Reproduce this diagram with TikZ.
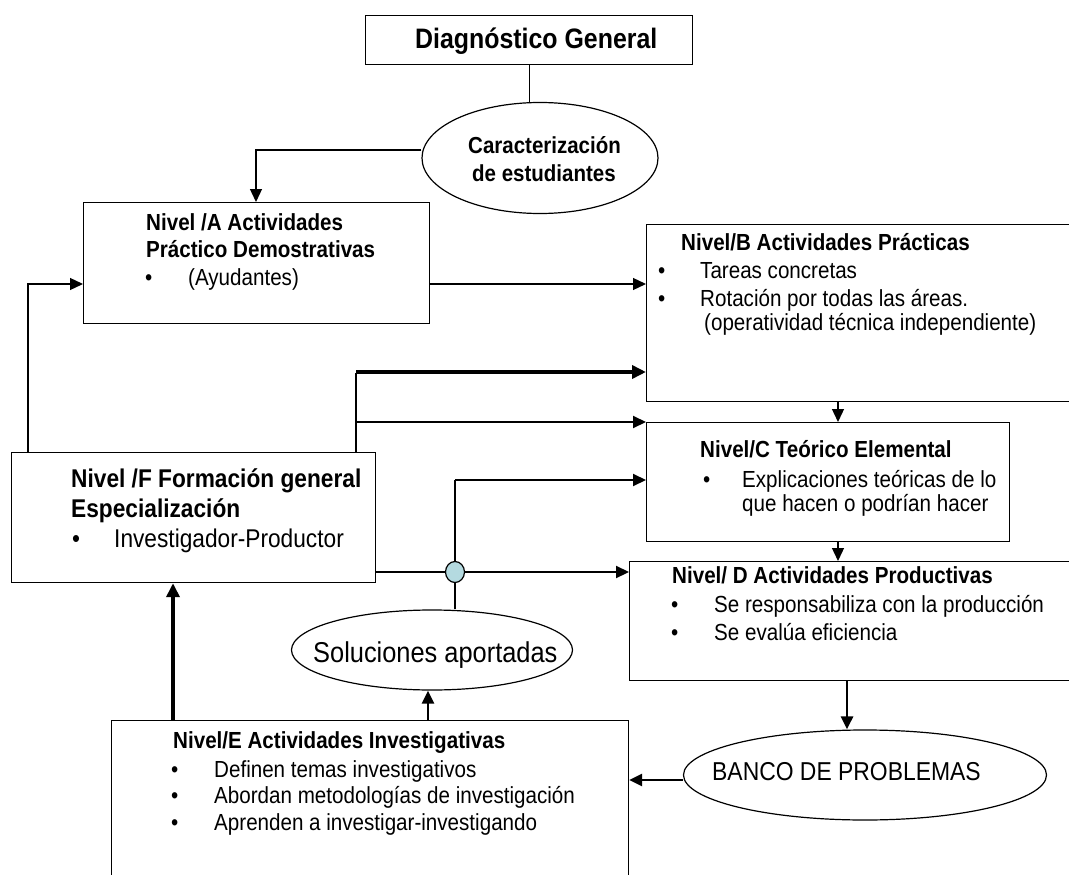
\documentclass[tikz,border=0pt]{standalone}
\usepackage{fontspec}
\setmainfont{Liberation Sans}
\usepackage{graphicx}
\usetikzlibrary{arrows.meta,shapes.geometric}
\definecolor{jumpfill}{RGB}{180,218,224}
\newcommand{\txt}[4]{\node[anchor=base west,inner sep=0pt,font=#3] (#1) at #2 {\scalebox{1}[1.13]{#4}};}
\newcommand{\boxbf}{\fontsize{20.6}{24}\selectfont\bfseries}
\newcommand{\boxrm}{\fontsize{20.6}{24}\selectfont}
\newcommand{\fbf}{\fontsize{22.7}{26}\selectfont\bfseries}
\newcommand{\frm}{\fontsize{22.7}{26}\selectfont}
\begin{document}
\begin{tikzpicture}[x=1pt,y=-1pt,
  box/.style={draw,line width=1.2pt,rectangle,inner sep=0pt,anchor=north west},
  ell/.style={draw,ellipse,line width=1.2pt,inner sep=0pt},
  ln/.style={line width=1.2pt},
  arr/.style={line width=1.3pt,-{Triangle[length=13pt,width=12pt]}},
  marr/.style={line width=2pt,-{Triangle[length=13pt,width=12pt]}},
  tarr/.style={line width=3.5pt,-{Triangle[length=14pt,width=13pt]}}]
\useasboundingbox (0,0) rectangle (1069,875);
\clip (0,0) rectangle (1069,875);
\fill[white] (0,0) rectangle (1069,875);

% boxes
\node[box,minimum width=327pt,minimum height=49pt] (Diag) at (365,15) {};
\node[box,minimum width=346pt,minimum height=121pt] (A) at (83,202) {};
\node[box,minimum width=434pt,minimum height=177pt] (B) at (646,224) {};
\node[box,minimum width=363pt,minimum height=119pt] (C) at (646,422) {};
\node[box,minimum width=451pt,minimum height=119pt] (D) at (629,561) {};
\node[box,minimum width=364pt,minimum height=130pt] (F) at (11,452) {};
\node[box,minimum width=517pt,minimum height=175pt] (E) at (111,720) {};

% ellipses
\node[ell,minimum width=236pt,minimum height=111pt] (Car) at (540,158) {};
\node[ell,minimum width=281pt,minimum height=80pt] (Sol) at (432,650) {};
\node[ell,minimum width=363pt,minimum height=90pt] (Ban) at (865,775) {};

% helper coordinates
\coordinate (cA) at (256,150);
\coordinate (jA) at (28,284);
\coordinate (jF) at (356,372);
\coordinate (jBC) at (838,0);
\coordinate (jD) at (455,572);
\coordinate (jS) at (455,480);
\coordinate (jEF) at (173,0);
\coordinate (jES) at (428,0);
\coordinate (jDB) at (847,0);
\coordinate (jB) at (0,780);

% connectors
\draw[ln] (Diag.south) -- (Diag.south |- Car.north);
\draw[arr] (Car.west |- cA) -| (A.north -| cA);
\draw[arr] (F.north -| jA) |- (A.west |- jA);
\draw[arr] (A.east |- jA) -- (B.west |- jA);
\draw[ln] (F.north -| jF) -- ([yshift=-0.9pt]jF);
\draw[tarr] (jF) -- (B.west |- jF);
\draw[marr] (jF |- C.north west) -- (C.north west);
\draw[arr] (B.south -| jBC) -- (C.north -| jBC);
\draw[arr] (C.south -| jBC) -- (D.north -| jBC);
\draw[ln] (Sol.north -| jS) -- (jS);
\draw[marr] (jS) -- (C.west |- jS);
\draw[line width=2.2pt,-{Triangle[length=13pt,width=12pt]}] (F.east |- jD) -- (D.west |- jD);
\node[ell,fill=jumpfill,minimum width=19pt,minimum height=21pt] (jump) at (jD) {};
\draw[tarr] (E.north -| jEF) -- (F.south -| jEF);
\draw[line width=2.6pt,-{Triangle[length=13pt,width=12pt]}] (E.north -| jES) -- (Sol.south -| jES);
\draw[line width=2.8pt,-{Triangle[length=13pt,width=12pt]}] (D.south -| jDB) -- (Ban.north -| jDB);
\draw[line width=2.8pt,-{Triangle[length=13pt,width=12pt]}] (Ban.west |- jB) -- (E.east |- jB);

% texts
\txt{tDiag}{(415,49)}{\fontsize{24.9}{28}\selectfont\bfseries}{Diagnóstico General}
\txt{tCar1}{(468,153)}{\fontsize{20.5}{24}\selectfont\bfseries}{Caracterización}
\txt{tCar2}{(472,181)}{\fontsize{20.5}{24}\selectfont\bfseries}{de estudiantes}

\txt{tA1}{(146,230)}{\boxbf}{Nivel /A Actividades}
\txt{tA2}{(146,257)}{\boxbf}{Práctico Demostrativas}
\txt{tAb}{(145,285)}{\boxrm}{\textbullet}
\txt{tA3}{(188,285)}{\boxrm}{(Ayudantes)}

\txt{tB1}{(681,250)}{\boxbf}{Nivel/B Actividades Prácticas}
\txt{tBb1}{(658,278)}{\boxrm}{\textbullet}
\txt{tB2}{(700,278)}{\boxrm}{Tareas concretas}
\txt{tBb2}{(658,306)}{\boxrm}{\textbullet}
\txt{tB3}{(700,306)}{\boxrm}{Rotación por todas las áreas.}
\txt{tB4}{(704,330)}{\boxrm}{(operatividad técnica independiente)}

\txt{tC1}{(700,457)}{\boxbf}{Nivel/C Teórico Elemental}
\txt{tCb}{(703,487)}{\boxrm}{\textbullet}
\txt{tC2}{(742,487)}{\boxrm}{Explicaciones teóricas de lo}
\txt{tC3}{(742,511)}{\boxrm}{que hacen o podrían hacer}

\txt{tD1}{(672,583)}{\boxbf}{Nivel/ D Actividades Productivas}
\txt{tDb1}{(671,612)}{\boxrm}{\textbullet}
\txt{tD2}{(714,612)}{\boxrm}{Se responsabiliza con la producción}
\txt{tDb2}{(671,640)}{\boxrm}{\textbullet}
\txt{tD3}{(714,640)}{\boxrm}{Se evalúa eficiencia}

\txt{tF1}{(71,487)}{\fbf}{Nivel /F Formación general}
\txt{tF2}{(71,517)}{\fbf}{Especialización}
\txt{tFb}{(72,547)}{\frm}{\textbullet}
\txt{tF3}{(114,547)}{\frm}{Investigador-Productor}

\txt{tE1}{(173,748)}{\boxbf}{Nivel/E Actividades Investigativas}
\txt{tEb1}{(171,777)}{\boxrm}{\textbullet}
\txt{tE2}{(214,777)}{\boxrm}{Definen temas investigativos}
\txt{tEb2}{(171,803)}{\boxrm}{\textbullet}
\txt{tE3}{(214,803)}{\boxrm}{Abordan metodologías de investigación}
\txt{tEb3}{(171,830)}{\boxrm}{\textbullet}
\txt{tE4}{(214,830)}{\boxrm}{Aprenden a investigar-investigando}

\txt{tSol}{(313,662)}{\fontsize{25.4}{29}\selectfont}{Soluciones aportadas}
\txt{tBan}{(712,780)}{\fontsize{22.9}{27}\selectfont}{BANCO DE PROBLEMAS}
\end{tikzpicture}
\end{document}
